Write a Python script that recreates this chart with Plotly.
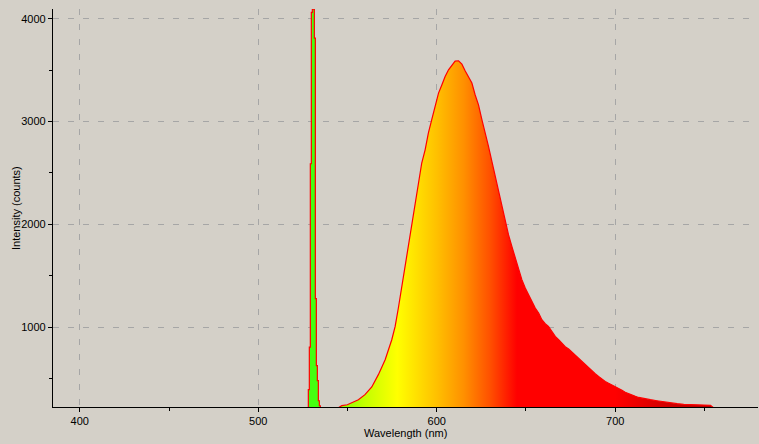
import plotly.graph_objects as go

# ---- data ----
laser_nm = [527.5, 528.06, 528.62, 529.18, 529.74, 530.30, 530.86, 531.43,
            531.99, 532.55, 533.11, 533.67, 534.23, 534.79]
laser_counts = [200, 390, 805, 2590, 4064, 4095, 4095, 3814,
                1276, 623, 477, 282, 233, 200]

emission_nm = [545.0, 546.8, 549.9, 552.4, 556.1, 559.8, 563.6, 567.3, 571.1, 574.8,
               576.7, 578.5, 580.4, 582.3, 584.1, 586.0, 587.9, 589.7, 591.6, 593.5,
               595.3, 597.2, 599.1, 601.0, 602.9, 604.7, 606.6, 608.5, 610.3, 612.2,
               614.1, 615.9, 617.8, 619.7, 621.5, 623.4, 625.3, 627.1, 629.0, 630.9,
               632.8, 634.6, 636.5, 638.4, 640.2, 642.1, 644.0, 645.8, 647.7, 649.6,
               651.4, 653.3, 655.2, 657.1, 658.9, 660.8, 662.6, 664.5, 666.4, 668.3,
               670.1, 672.0, 673.9, 675.7, 677.6, 679.5, 681.3, 683.2, 685.0, 686.9,
               688.8, 690.7, 692.5, 694.4, 696.3, 698.1, 700.0, 701.9, 703.8, 705.6,
               707.5, 709.4, 711.3, 713.1, 716.0, 719.7, 723.4, 727.2, 730.9, 734.7,
               738.4, 742.2, 745.9, 749.6, 753.4, 755.0]
emission_counts = [215, 234, 243, 260, 292, 341, 416, 536, 682, 876,
                   1006, 1185, 1396, 1590, 1785, 1980, 2207, 2402, 2597, 2726,
                   2889, 3019, 3148, 3278, 3359, 3440, 3505, 3554, 3590, 3593,
                   3560, 3495, 3440, 3376, 3262, 3164, 3019, 2905, 2759, 2613,
                   2466, 2305, 2159, 2028, 1899, 1785, 1672, 1558, 1461, 1380,
                   1315, 1249, 1185, 1136, 1071, 1032, 1006, 957, 908, 876,
                   844, 808, 785, 755, 722, 695, 665, 630, 600, 572,
                   545, 518, 492, 470, 452, 437, 420, 405, 385, 365,
                   350, 336, 325, 314, 302, 292, 282, 270, 260, 253,
                   247, 244, 241, 237, 237, 215]

x_tick_vals = [400, 500, 600, 700]
y_tick_vals = [1000, 2000, 3000, 4000]
x_title = "Wavelength (nm)"
y_title = "Intensity (counts)"

BG = "#d4d0c8"
GRID = "#a6a6a6"
FONT = "Liberation Sans"

# wavelength colour map for the emission fill (positions between start/stop)
grad_start, grad_stop = 545, 760
spectrum_scale = [
    [0.000, "#80ff00"],
    [0.070, "#c4ff00"],
    [0.153, "#ffff00"],
    [0.256, "#ffc000"],
    [0.326, "#ff9000"],
    [0.395, "#ff5000"],
    [0.465, "#ff0000"],
    [0.721, "#ff0000"],
    [0.860, "#d00000"],
    [1.000, "#b00000"],
]

fig = go.Figure()

fig.add_trace(go.Scatter(
    x=laser_nm, y=laser_counts, mode="lines",
    line=dict(color="#ff0000", width=1.2, shape="hv"),
    fill="tozeroy", fillcolor="#44ff11",
    hoverinfo="skip", showlegend=False,
))

fig.add_trace(go.Scatter(
    x=emission_nm, y=emission_counts, mode="lines",
    line=dict(color="#ff0000", width=1.2),
    fill="tozeroy",
    fillgradient=dict(type="horizontal", colorscale=spectrum_scale,
                      start=grad_start, stop=grad_stop),
    hoverinfo="skip", showlegend=False,
))

axis_common = dict(
    showline=True, linecolor="black", linewidth=1.3,
    ticks="outside", ticklen=4, tickcolor="black", tickwidth=1,
    showgrid=True, gridcolor=GRID, gridwidth=1, griddash="6px,9px",
    zeroline=False, automargin=False,
    tickfont=dict(family=FONT, size=11, color="black"),
)

fig.update_xaxes(
    range=[385, 780], tickvals=x_tick_vals,
    minor=dict(dtick=50, tick0=0, ticklen=3, tickcolor="black", showgrid=False),
    **axis_common,
)
fig.update_yaxes(
    range=[221, 4097], tickvals=y_tick_vals,
    minor=dict(dtick=500, tick0=0, ticklen=3, tickcolor="black", showgrid=False),
    **axis_common,
)

title_font = dict(family=FONT, size=11, color="black")
fig.add_annotation(text=x_title, xref="paper", yref="paper", x=0.5, y=-0.0653,
                   xanchor="center", yanchor="middle", showarrow=False, font=title_font)
fig.add_annotation(text=y_title, xref="paper", yref="paper", x=-0.0525, y=0.5,
                   xanchor="center", yanchor="middle", textangle=-90,
                   showarrow=False, font=title_font)

fig.update_layout(
    width=759, height=444,
    margin=dict(l=53, r=1, t=9, b=37, pad=0),
    paper_bgcolor=BG, plot_bgcolor=BG,
    showlegend=False,
)

fig.write_html(
    "out.html",
    config={"displayModeBar": False},
    post_script="document.body.style.margin='0';document.body.style.overflow='hidden';",
)
